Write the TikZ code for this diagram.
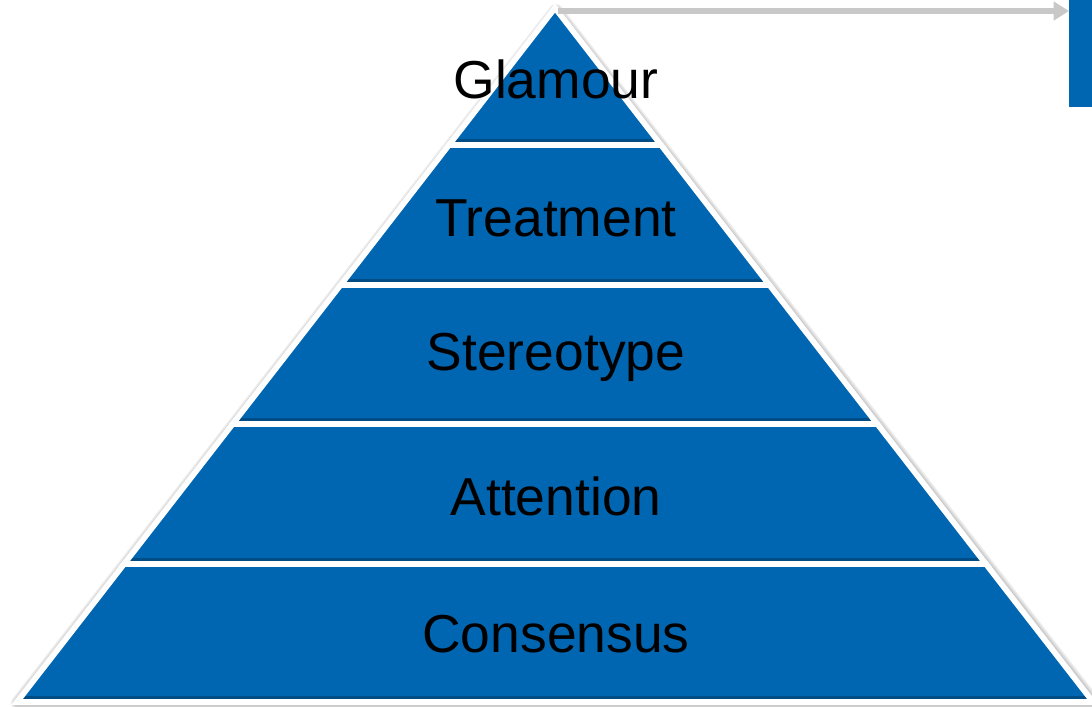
\documentclass[tikz,border=0pt]{standalone}
\usepackage{fontspec}
\setmainfont{Liberation Sans}
\usetikzlibrary{arrows.meta}

\definecolor{pyrblue}{RGB}{0,102,178}
\definecolor{pyrgray}{RGB}{200,200,200}

\begin{document}
\begin{tikzpicture}[x=0.025cm, y=-0.025cm]

\tikzstyle{layer}=[fill=pyrblue, draw=white, line width=4pt, line join=miter,
                   path picture={\fill [black, opacity=0.25]
                     (path picture bounding box.south west) rectangle
                     ([yshift=4.6pt]path picture bounding box.south east);}]
\tikzstyle{glow}=[draw=black, line join=round, opacity=0.07]
\tikzstyle{layertext}=[font=\fontsize{38}{45}\selectfont, text=black]
\tikzstyle{arrow}=[-{Triangle[length=11pt, width=13pt]}, draw=pyrgray, line width=4pt]

\useasboundingbox (0,0) rectangle (1092,706);

% soft shadow round the outline
\draw [glow, line width=10pt] (556,11) -- (1094,703) -- (18,703) -- cycle;
\draw [glow, line width=8pt]  (556,11) -- (1094,703) -- (18,703) -- cycle;
\draw [glow, line width=6pt]  (556,11) -- (1094,703) -- (18,703) -- cycle;

% pyramid, top to bottom
\draw [layer] (555,8) -- (661,145) -- (449,145) -- cycle;
\draw [layer] (449,145) -- (661,145) -- (769.4,285) -- (340.6,285) -- cycle;
\draw [layer] (340.6,285) -- (769.4,285) -- (877.3,424) -- (232.7,424) -- cycle;
\draw [layer] (232.7,424) -- (877.3,424) -- (985.9,564) -- (124.1,564) -- cycle;
\draw [layer] (124.1,564) -- (985.9,564) -- (1093,702) -- (17,702) -- cycle;

\node (glamour)    [layertext] at (556,79)  {Glamour};
\node (treatment)  [layertext] at (556,218) {Treatment};
\node (stereotype) [layertext] at (556,357) {Stereotype};
\node (attention)  [layertext] at (556,496) {Attention};
\node (consensus)  [layertext] at (556,634) {Consensus};

% tab on the right and the pointer to it
\coordinate (apex) at (558,11);
\node (tab) [fill=pyrblue, minimum width=23*0.025cm, minimum height=107*0.025cm,
             inner sep=0pt, anchor=north west] at (1069,0) {};
\draw [arrow] (apex) -- (apex -| tab.west);

\end{tikzpicture}
\end{document}
